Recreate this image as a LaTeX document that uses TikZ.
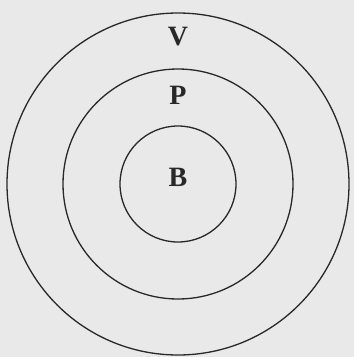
\documentclass[tikz,border=0pt]{standalone}
\usepackage{fontspec}
\setmainfont{Liberation Serif}
\usepackage{tikz}
\usepackage{xcolor}
\usetikzlibrary{positioning, backgrounds}
\definecolor{cPaper}{RGB}{233,233,233}
\definecolor{cInk}{RGB}{40,40,40}
\tikzset{
	ring/.style ={circle, draw=cInk, line width=1.3pt, inner sep=0pt},
	lbl/.style  ={inner sep=0pt, text=cInk, font=\fontsize{28}{32}\selectfont\bfseries},
}
\begin{document}
\begin{tikzpicture}[x=1pt, y=-1pt]
	\fill[cPaper] (0,0) rectangle (354,357);
	\useasboundingbox (0,0) rectangle (354,357);
	% concentric rings
	\coordinate (c) at (178,184);
	\node[ring, minimum size=342pt] (outer) at (c) {};
	\node[ring, minimum size=230pt] (middle) at (c) {};
	\node[ring, minimum size=116pt] (inner) at (c) {};
	% ring labels
	\node[lbl] (v) at (178,37) {V};
	\node[lbl] (p) at (178,95) {P};
	\node[lbl] (b) at (178,177) {B};
\end{tikzpicture}
\end{document}
